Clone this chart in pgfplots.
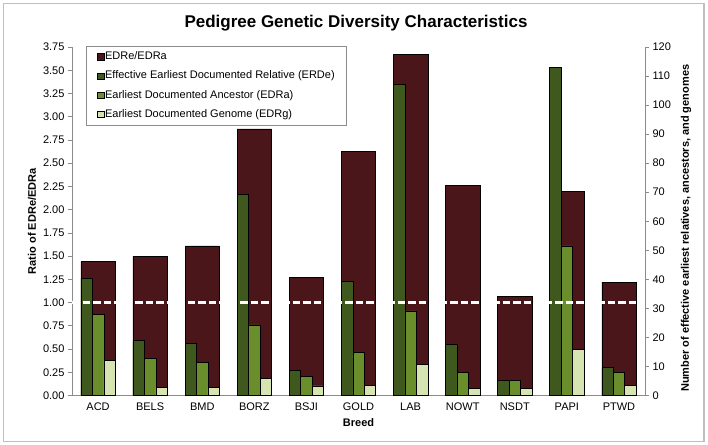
\documentclass[border=0pt]{standalone}
\usepackage{pgfplots}
\pgfplotsset{compat=1.18}
\usepackage{fontspec}
\setmainfont{Liberation Sans}
\definecolor{maroon}{RGB}{74,22,25}
\definecolor{dkgreen}{RGB}{63,88,30}
\definecolor{mdgreen}{RGB}{107,142,44}
\definecolor{ltgreen}{RGB}{214,228,178}
\definecolor{axgray}{RGB}{140,140,140}
\begin{document}
\begin{tikzpicture}
\useasboundingbox (0,0) rectangle (708bp,445bp);
\draw[draw={rgb,255:red,191;green,191;blue,191}, line width=1.5bp] (3.5bp,3.5bp) rectangle (704bp,441.5bp);
\node[font=\fontsize{17bp}{20bp}\selectfont\bfseries] at (356bp,422bp) {Pedigree Genetic Diversity Characteristics};
\pgfplotsset{
  common/.style={
    at={(72bp,49.5bp)}, anchor=south west,
    scale only axis, width=573bp, height=348.5bp,
    xmin=-0.5, xmax=10.5,
    tick align=outside,
    major tick length=4bp, minor tick length=4bp,
    every tick/.style={draw=axgray, line width=0.6bp},
    axis line style={draw=axgray, line width=0.8bp},
    tick label style={font=\fontsize{11bp}{13bp}\selectfont},
    label style={font=\fontsize{11bp}{13bp}\selectfont\bfseries},
    /pgf/number format/assume math mode=true,
    ybar,
  }
}
\begin{axis}[common,
  ymin=0, ymax=3.75,
  ytick={0,0.25,...,3.75},
  yticklabel style={/pgf/number format/.cd, fixed, fixed zerofill, precision=2},
  axis x line*=bottom, axis y line*=left,
  xtick={0,...,10},
  xticklabels={ACD,BELS,BMD,BORZ,BSJI,GOLD,LAB,NOWT,NSDT,PAPI,PTWD},
  x tick style={draw=none},
  minor xtick={-0.5,0.5,...,10.5},
  xlabel={Breed},
  xlabel style={at={(axis description cs:0.5,-0.079)}, anchor=center},
  ylabel={Ratio of EDRe/EDRa},
  ylabel style={at={(axis description cs:-0.0698,0.5)}, anchor=center},
  bar width=0.66,
]
\addplot[fill=maroon, draw=black, line width=0.5bp, bar shift=0] coordinates {
(0,1.44) (1,1.50) (2,1.61) (3,2.87) (4,1.27) (5,2.63) (6,3.67) (7,2.26) (8,1.07) (9,2.20) (10,1.22)};
\end{axis}
\begin{axis}[common,
  ymin=0, ymax=120,
  ytick={0,10,...,120},
  axis y line*=right, axis x line=none,
  ylabel={Number of effective earliest relatives, ancestors, and genomes},
  ylabel style={at={(axis description cs:1.0716,0.48)}, anchor=center, rotate=0},
  bar width=0.22,
  legend style={at={(axis description cs:0.0244,1.003)}, anchor=north west,
    draw=axgray, line width=0.6bp, fill=white,
    font=\fontsize{11bp}{13bp}\selectfont,
    row sep=7.2bp, inner xsep=11bp, inner ysep=4.5bp,
    nodes={inner sep=1bp, text height=8bp, text depth=2bp}},
  legend cell align=left,
  legend image code/.code={\draw[#1, draw=black, line width=0.4bp] (0bp,-3.2bp) rectangle (6.4bp,3.2bp);},
]
\addlegendimage{fill=maroon}
\addlegendentry{EDRe/EDRa}
\addplot[fill=dkgreen, draw=black, line width=0.5bp, bar shift=-0.22] coordinates {
(0,40.4) (1,18.9) (2,18.0) (3,69.2) (4,8.6) (5,39.2) (6,107.1) (7,17.7) (8,5.2) (9,113.1) (10,9.7)};
\addlegendentry{Effective Earliest Documented Relative (ERDe)}
\addplot[fill=mdgreen, draw=black, line width=0.5bp, bar shift=0] coordinates {
(0,28.0) (1,12.7) (2,11.3) (3,24.3) (4,6.5) (5,14.9) (6,29.1) (7,8.0) (8,5.2) (9,51.5) (10,8.0)};
\addlegendentry{Earliest Documented Ancestor (EDRa)}
\addplot[fill=ltgreen, draw=black, line width=0.5bp, bar shift=0.22] coordinates {
(0,12.2) (1,2.8) (2,2.8) (3,5.9) (4,3.3) (5,3.6) (6,10.6) (7,2.5) (8,2.5) (9,16.0) (10,3.5)};
\addlegendentry{Earliest Documented Genome (EDRg)}
\addplot[sharp plot, white, line width=2.5bp, dash pattern=on 7.5bp off 3bp, forget plot] coordinates {(-0.5,32) (10.5,32)};
\end{axis}
\end{tikzpicture}
\end{document}
